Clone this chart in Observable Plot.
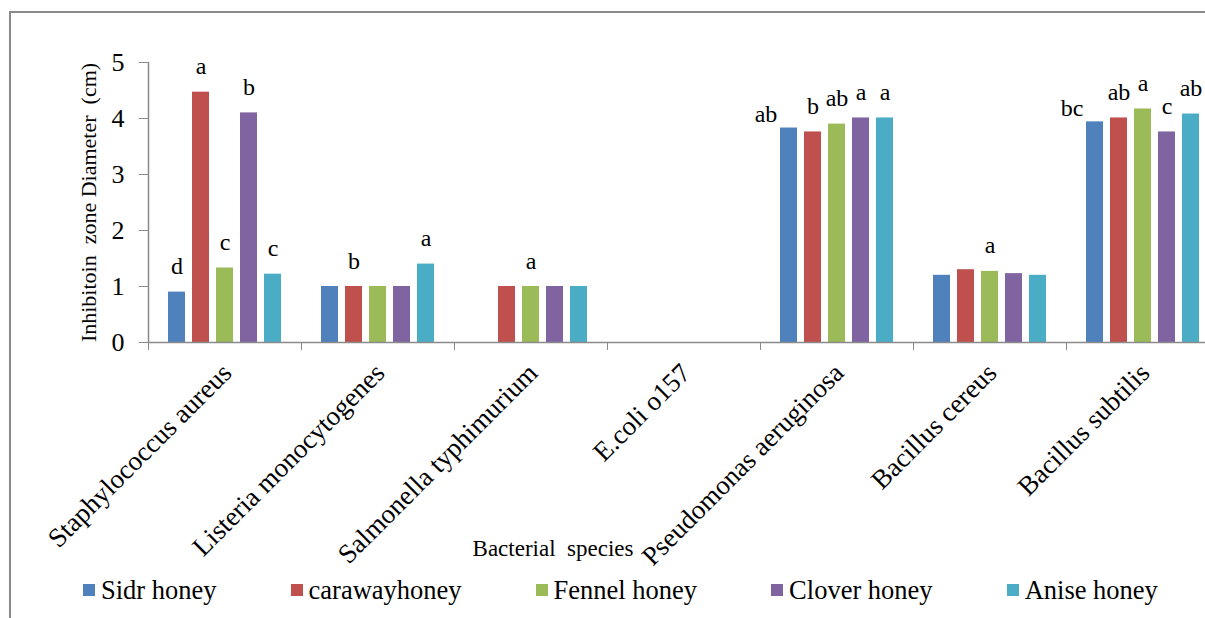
<!DOCTYPE html>
<html>
<head>
<meta charset="utf-8">
<script src="https://cdn.jsdelivr.net/npm/d3@7"></script>
<script src="https://cdn.jsdelivr.net/npm/@observablehq/plot@0.6"></script>
<style>
  html, body { margin: 0; padding: 0; background: #fff; overflow: hidden; width: 1205px; height: 618px; }
  #frame { position: absolute; left: 9px; top: 11px; width: 1400px; height: 900px; border: 2px solid #8a8a8a; box-sizing: border-box; }
  #wrap { position: absolute; left: 0; top: 0; width: 1260px; }
  #chart svg { white-space: pre; overflow: visible; max-width: none !important; display: block; }
  #legend { display: flex; align-items: center; padding-left: 83px; height: 36px; margin-top: 0px;
            font-family: "Liberation Serif", "Times New Roman", serif; font-size: 26.5px; color: #000; white-space: nowrap; }
  .item { display: flex; align-items: center; margin-right: 74px; flex-shrink: 0; }
  .sw { width: 12px; height: 12px; margin-right: 6px; flex-shrink: 0; }
</style>
</head>
<body>
<div id="frame"></div>
<div id="wrap">
  <div id="chart"></div>
  <div id="legend"></div>
</div>
<script>
// ---- data ----
const species = ["Staphylococcus aureus", "Listeria monocytogenes", "Salmonella typhimurium", "E.coli o157", "Pseudomonas aeruginosa", "Bacillus cereus", "Bacillus subtilis"];
const honeys = ["Sidr honey", "carawayhoney", "Fennel honey", "Clover honey", "Anise honey"];
const sidr    = [0.90, 1.00, 0,    0, 3.83, 1.20, 3.94];
const caraway = [4.47, 1.00, 1.00, 0, 3.76, 1.30, 4.01];
const fennel  = [1.33, 1.00, 1.00, 0, 3.90, 1.27, 4.17];
const clover  = [4.10, 1.00, 1.00, 0, 4.01, 1.23, 3.76];
const anise   = [1.22, 1.40, 1.00, 0, 4.01, 1.20, 4.08];
const sidrLetters    = ["d", "",  "",  "", "ab", "",  "bc"];
const carawayLetters = ["a", "b", "",  "", "b",  "",  "ab"];
const fennelLetters  = ["c", "",  "a", "", "ab", "a", "a"];
const cloverLetters  = ["b", "",  "",  "", "a",  "",  "c"];
const aniseLetters   = ["c", "a", "",  "", "a",  "",  "ab"];
const yTicks = [0, 1, 2, 3, 4, 5];
const colors = ["#4F81BD", "#C0504D", "#9BBB59", "#8064A2", "#4BACC6"];
const yLabel = "Inhibitoin  zone Diameter  (cm)";
const xLabel = "Bacterial  species";

// letters drawn beside (left of) the first bar rather than above it
const sideLabelSpecies = ["Pseudomonas aeruginosa", "Bacillus subtilis"];

const seriesValues = [sidr, caraway, fennel, clover, anise];
const seriesLetters = [sidrLetters, carawayLetters, fennelLetters, cloverLetters, aniseLetters];
const rows = [];
species.forEach((sp, i) => {
  honeys.forEach((h, j) => {
    rows.push({species: sp, series: h, value: seriesValues[j][i], letter: seriesLetters[j][i]});
  });
});
const isSide = d => d.series === honeys[0] && sideLabelSpecies.includes(d.species);

const W = 1260, ML = 148, MR = 41;
const halfBand = (W - ML - MR) / species.length / 2;
const serif = "'Liberation Serif', 'Times New Roman', serif";
const axisGray = "#8a8a8a";

const chart = Plot.plot({
  width: W,
  height: 572,
  marginLeft: ML,
  marginRight: MR,
  marginTop: 62,
  marginBottom: 230,
  style: {fontFamily: serif, fontSize: "25px", color: "#000", background: "transparent", overflow: "visible", maxWidth: "none"},
  fx: {domain: species, padding: 0},
  x: {domain: honeys, paddingInner: 0.283, paddingOuter: 0.78, axis: null},
  y: {domain: [0, 5]},
  color: {domain: honeys, range: colors},
  marks: [
    Plot.barY(rows, {fx: "species", x: "series", y: "value", fill: "series"}),
    Plot.ruleY([0], {stroke: axisGray, strokeWidth: 1.5}),
    Plot.ruleX([species[0]], {fx: d => d, x: null, dx: -halfBand, stroke: axisGray, strokeWidth: 1.5}),
    Plot.text(rows.filter(d => d.letter && !isSide(d)), {fx: "species", x: "series", y: "value", text: "letter", dy: -18, lineAnchor: "bottom", fontSize: 24, fontFamily: serif}),
    Plot.text(rows.filter(d => d.letter && isSide(d)), {fx: "species", x: "series", y: "value", text: "letter", dx: -23, dy: -6, lineAnchor: "bottom", fontSize: 24, fontFamily: serif}),
    Plot.axisY({ticks: yTicks, tickFormat: d => String(d), tickSize: 9, tickPadding: 15, stroke: axisGray, fontSize: 26, fontFamily: serif, label: null, facetAnchor: "left"}),
    Plot.axisY({ticks: [], label: yLabel, labelAnchor: "center", labelArrow: "none", labelOffset: 68, fontSize: 22, fontFamily: serif, facetAnchor: "left"}),
    Plot.axisFx({anchor: "bottom", tickSize: 8, tickFormat: () => "", dx: -halfBand, stroke: axisGray, label: null}),
    Plot.axisFx({anchor: "bottom", tickSize: 0, tickPadding: 26, tickRotate: -45, dx: 2, fontSize: 27, fontFamily: serif, label: null}),
    Plot.text([xLabel], {fx: () => species[2], text: d => d, frameAnchor: "bottom", dy: 206, dx: 22, lineAnchor: "middle", fontSize: 23, fontFamily: serif})
  ]
});
document.getElementById("chart").appendChild(chart);

// legend
const legend = document.getElementById("legend");
honeys.forEach((h, i) => {
  const item = document.createElement("div");
  item.className = "item";
  const sw = document.createElement("div");
  sw.className = "sw";
  sw.style.background = colors[i];
  const t = document.createElement("span");
  t.textContent = h;
  item.appendChild(sw);
  item.appendChild(t);
  legend.appendChild(item);
});
</script>
</body>
</html>
